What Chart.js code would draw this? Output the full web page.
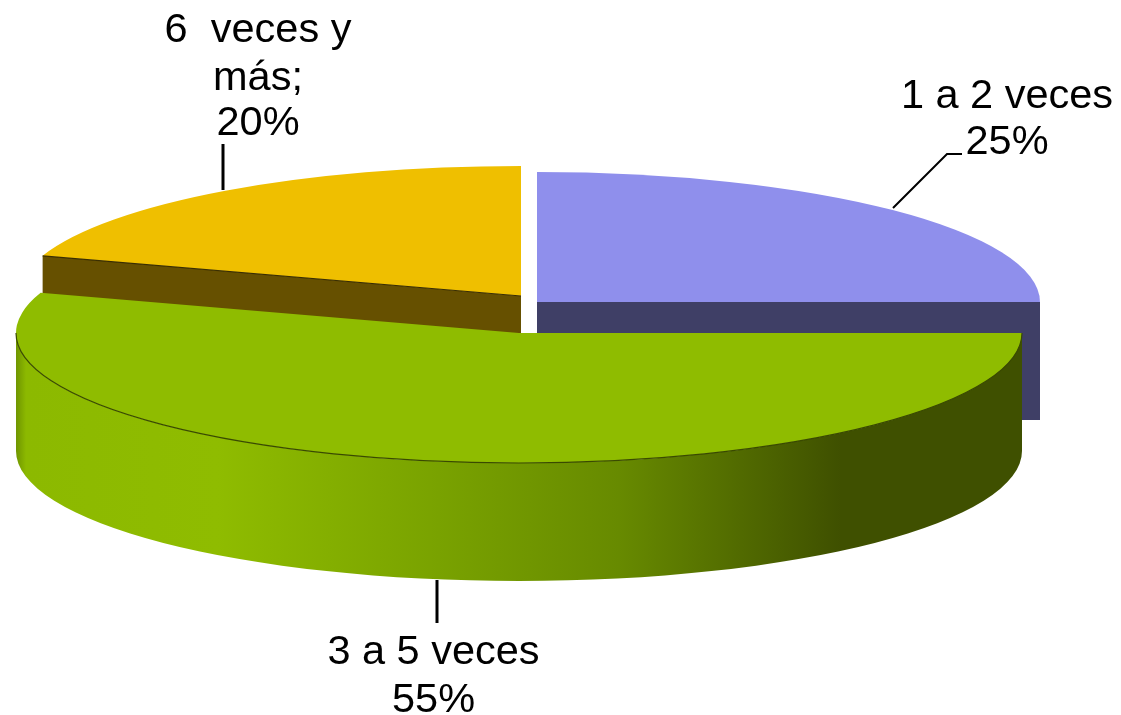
<!DOCTYPE html>
<html>
<head>
<meta charset="utf-8">
<style>html,body{margin:0;padding:0;background:#fff}canvas{display:block}</style>
<script src="https://cdn.jsdelivr.net/npm/chart.js@4"></script>
</head>
<body>
<canvas id="c" width="1121" height="715"></canvas>
<script>
const categories = ['1 a 2 veces', '3 a 5 veces', '6 veces y más'];
const shares = [25, 55, 20];

const topColors = ['#8f8fec', '#8fbc00', '#efbf00'];
const sideColors = ['#3f3f66', '#3f5000', '#665000'];
const edgeColors = ['#33335a', '#3a4a00', '#3a2e00'];
const sliceCentersX = [537, 519, 521];
const sliceCentersY = [302, 333, 296];
const radiusX = 503, radiusY = 130, depth = 118;

const labelLines = [
  {text: '1 a 2 veces', x: 1007, y: 108},
  {text: '25%', x: 1007, y: 154},
  {text: '3 a 5 veces', x: 433.5, y: 664},
  {text: '55%', x: 433.5, y: 712},
  {text: '6  veces y', x: 258, y: 42},
  {text: 'más;', x: 258, y: 90},
  {text: '20%', x: 258, y: 135}
];
const leaderPaths = [
  [[893, 208], [947, 154], [962, 154]],
  [[437, 580], [437, 623]],
  [[223, 144], [223, 190]]
];
const leaderWidths = [2, 3, 3];
const wallStops = [[0,'#6f9500'],[0.01,'#8cb900'],[0.2,'#8fbc00'],[0.42,'#79a200'],[0.6,'#678a00'],[0.82,'#3f5000'],[1,'#3f5000']];

function rimPoint(i, angle) {
  return [sliceCentersX[i] + radiusX * Math.cos(angle), sliceCentersY[i] + radiusY * Math.sin(angle)];
}
function drawTop(ctx, arc, i) {
  ctx.save();
  ctx.translate(sliceCentersX[i], sliceCentersY[i]);
  ctx.scale(1, radiusY / radiusX);
  ctx.translate(-arc.x, -arc.y);
  arc.draw(ctx);
  ctx.restore();
}
function drawCut(ctx, i, angle) {
  const p = rimPoint(i, angle), cx = sliceCentersX[i], cy = sliceCentersY[i];
  ctx.fillStyle = sideColors[i];
  ctx.beginPath();
  ctx.moveTo(cx, cy); ctx.lineTo(p[0], p[1]);
  ctx.lineTo(p[0], p[1] + depth); ctx.lineTo(cx, cy + depth);
  ctx.closePath(); ctx.fill();
}
function drawEdge(ctx, i, angle) {
  const p = rimPoint(i, angle);
  ctx.strokeStyle = edgeColors[i]; ctx.lineWidth = 1.2;
  ctx.beginPath(); ctx.moveTo(sliceCentersX[i], sliceCentersY[i]); ctx.lineTo(p[0], p[1]); ctx.stroke();
}

const pie3d = {
  id: 'pie3d',
  beforeDatasetsDraw(chart) {
    const ctx = chart.ctx, arcs = chart.getDatasetMeta(0).data;
    const blue = arcs[0], green = arcs[1], yellow = arcs[2];
    // back slices
    drawCut(ctx, 2, yellow.startAngle);
    drawCut(ctx, 0, blue.endAngle);
    drawTop(ctx, blue, 0);
    drawTop(ctx, yellow, 2);
    drawEdge(ctx, 2, yellow.startAngle);
    // front slice wall
    const cx = sliceCentersX[1], cy = sliceCentersY[1];
    const g = ctx.createLinearGradient(cx - radiusX, 0, cx + radiusX, 0);
    wallStops.forEach(s => g.addColorStop(s[0], s[1]));
    ctx.fillStyle = g;
    ctx.beginPath();
    ctx.ellipse(cx, cy, radiusX, radiusY, 0, 0, Math.PI);
    ctx.ellipse(cx, cy + depth, radiusX, radiusY, 0, Math.PI, 0, true);
    ctx.closePath(); ctx.fill();
    drawTop(ctx, green, 1);
    ctx.strokeStyle = edgeColors[1]; ctx.lineWidth = 1.2;
    ctx.beginPath();
    ctx.ellipse(cx, cy, radiusX, radiusY, 0, 0, Math.PI);
    ctx.stroke();
    return false;
  },
  afterDraw(chart) {
    const ctx = chart.ctx;
    ctx.save();
    ctx.strokeStyle = '#000';
    leaderPaths.forEach((path, n) => {
      ctx.lineWidth = leaderWidths[n];
      ctx.beginPath();
      path.forEach((p, k) => k ? ctx.lineTo(p[0], p[1]) : ctx.moveTo(p[0], p[1]));
      ctx.stroke();
    });
    ctx.fillStyle = '#000';
    ctx.font = '41.5px "Liberation Sans"';
    ctx.textAlign = 'center';
    ctx.textBaseline = 'alphabetic';
    labelLines.forEach(l => ctx.fillText(l.text, l.x, l.y));
    ctx.restore();
  }
};

new Chart(document.getElementById('c'), {
  type: 'pie',
  data: {
    labels: categories,
    datasets: [{data: shares, backgroundColor: topColors, borderWidth: 0}]
  },
  options: {
    responsive: false,
    animation: false,
    radius: radiusX,
    plugins: {legend: {display: false}, tooltip: {enabled: false}, title: {display: false}}
  },
  plugins: [pie3d]
});
</script>
</body>
</html>
